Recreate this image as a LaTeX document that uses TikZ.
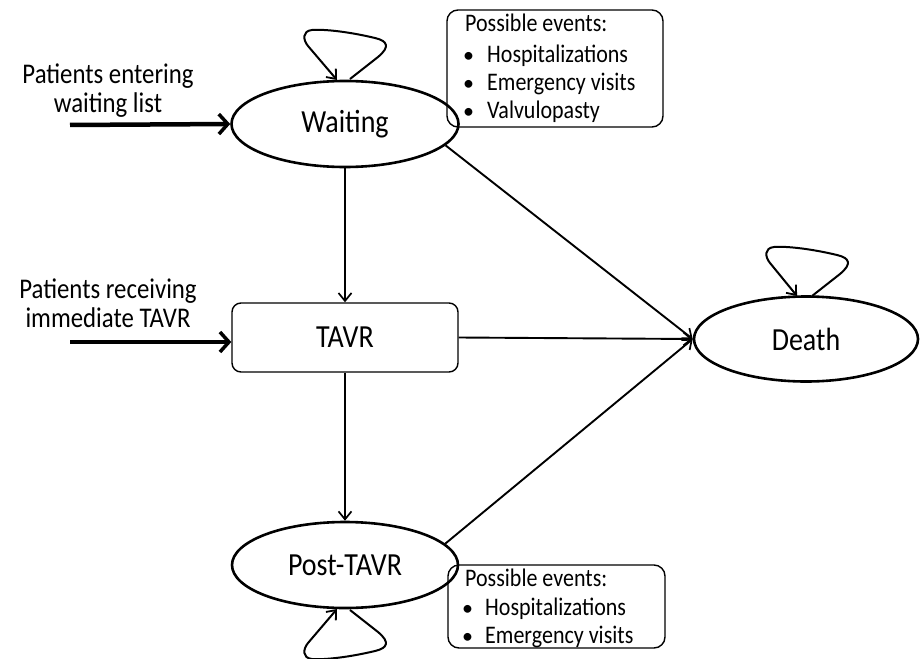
\documentclass[tikz,border=0pt]{standalone}
\usepackage{fontspec}
\usepackage{graphicx}
\setmainfont{Carlito}
\usetikzlibrary{arrows.meta,shapes.geometric}
\newcommand{\vst}[1]{\scalebox{1}[1.15]{#1}}
\tikzset{
  stateell/.style={ellipse, draw, line width=2.6pt, inner sep=0pt, font=\fontsize{28}{32}\selectfont},
  statebox/.style={rectangle, draw, line width=1.4pt, rounded corners=9pt, inner sep=0pt, font=\fontsize{28}{32}\selectfont},
  evbox/.style={rectangle, draw, line width=1.4pt, rounded corners=11pt, inner sep=0pt},
  evtext/.style={anchor=base west, inner sep=0pt, font=\fontsize{22}{26}\selectfont},
  sidetext/.style={anchor=base, inner sep=0pt, font=\fontsize{24.8}{29}\selectfont},
  trans/.style={line width=1.9pt, -{Straight Barb[length=8pt,width=13pt,line width=1.7pt]}},
  entry/.style={line width=4.5pt, -{Straight Barb[length=9pt,width=20pt,line width=3.5pt]}},
  loopline/.style={line width=2pt, line join=round, -{Straight Barb[length=8pt,width=13pt,line width=1.8pt]}}
}
\begin{document}
\begin{tikzpicture}[x=1pt,y=-1pt]
\useasboundingbox (0,0) rectangle (920,658);

% state nodes
\node[stateell, minimum width=227pt, minimum height=86pt] (W) at (345,124) {\vst{Waiting}};
\node[statebox, minimum width=226pt, minimum height=69pt] (T) at (345,337.5) {\vst{TAVR}};
\node[stateell, minimum width=224pt, minimum height=85pt] (D) at (806,339) {\vst{Death}};
\node[stateell, minimum width=226pt, minimum height=86pt] (P) at (345,565) {\vst{Post-TAVR}};

% event boxes
\node[evbox, minimum width=216pt, minimum height=117pt] (E1) at (555,68.5) {};
\node[evtext] (e1a) at (465,32) {\vst{Possible events:}};
\node[evtext] (e1b) at (463,63) {•};
\node[evtext] (e1c) at (487,63) {\vst{Hospitalizations}};
\node[evtext] (e1d) at (463,91) {•};
\node[evtext] (e1e) at (487,91) {\vst{Emergency visits}};
\node[evtext] (e1f) at (463,118) {•};
\node[evtext] (e1g) at (487,118) {\vst{Valvulopasty}};

\node[evbox, minimum width=217pt, minimum height=83pt] (E2) at (556.5,606.5) {};
\node[evtext] (e2a) at (465,586) {\vst{Possible events:}};
\node[evtext] (e2b) at (462,615) {•};
\node[evtext] (e2c) at (485,615) {\vst{Hospitalizations}};
\node[evtext] (e2d) at (462,643) {•};
\node[evtext] (e2e) at (485,643) {\vst{Emergency visits}};

% side labels
\node[sidetext] (s1a) at (108,84) {\vst{Patients entering}};
\node[sidetext] (s1b) at (108,113) {\vst{waiting list}};
\node[sidetext] (s2a) at (108,298) {\vst{Patients receiving}};
\node[sidetext] (s2b) at (108,327) {\vst{immediate TAVR}};

\coordinate (in1) at (70,125);
\coordinate (in2) at (70,342);
\draw[entry] (in1) -- (W.west);
\draw[entry] (in2) -- (T.west |- in2);

% transitions
\draw[trans] (W.south) -- (T.north);
\draw[trans] (T.south) -- (P.north);
\draw[trans] (W.-12) -- (D.west);
\draw[trans] (T.east) -- (D.west);
\draw[trans] (P.12) -- (D.west);

% self loops
\coordinate (wl1) at (350,79);
\coordinate (wl2) at (337,80);
\draw[loopline] (wl1) -- (378,57) .. controls (390,47) and (388,41) .. (375,38) .. controls (350,32) and (325,29) .. (312,30) .. controls (302,31) and (303,40) .. (308,46) -- (wl2);

\coordinate (dl1) at (812,296);
\coordinate (dl2) at (797,296);
\draw[loopline] (dl1) -- (840,274) .. controls (852,264) and (850,258) .. (837,255) .. controls (812,249) and (787,246) .. (774,247) .. controls (764,248) and (765,257) .. (770,263) -- (dl2);

\coordinate (pl1) at (350,610);
\coordinate (pl2) at (337,609);
\draw[loopline] (pl1) -- (378,632) .. controls (390,642) and (388,648) .. (375,651) .. controls (350,657) and (325,660) .. (312,659) .. controls (302,658) and (303,649) .. (308,643) -- (pl2);
\end{tikzpicture}
\end{document}
